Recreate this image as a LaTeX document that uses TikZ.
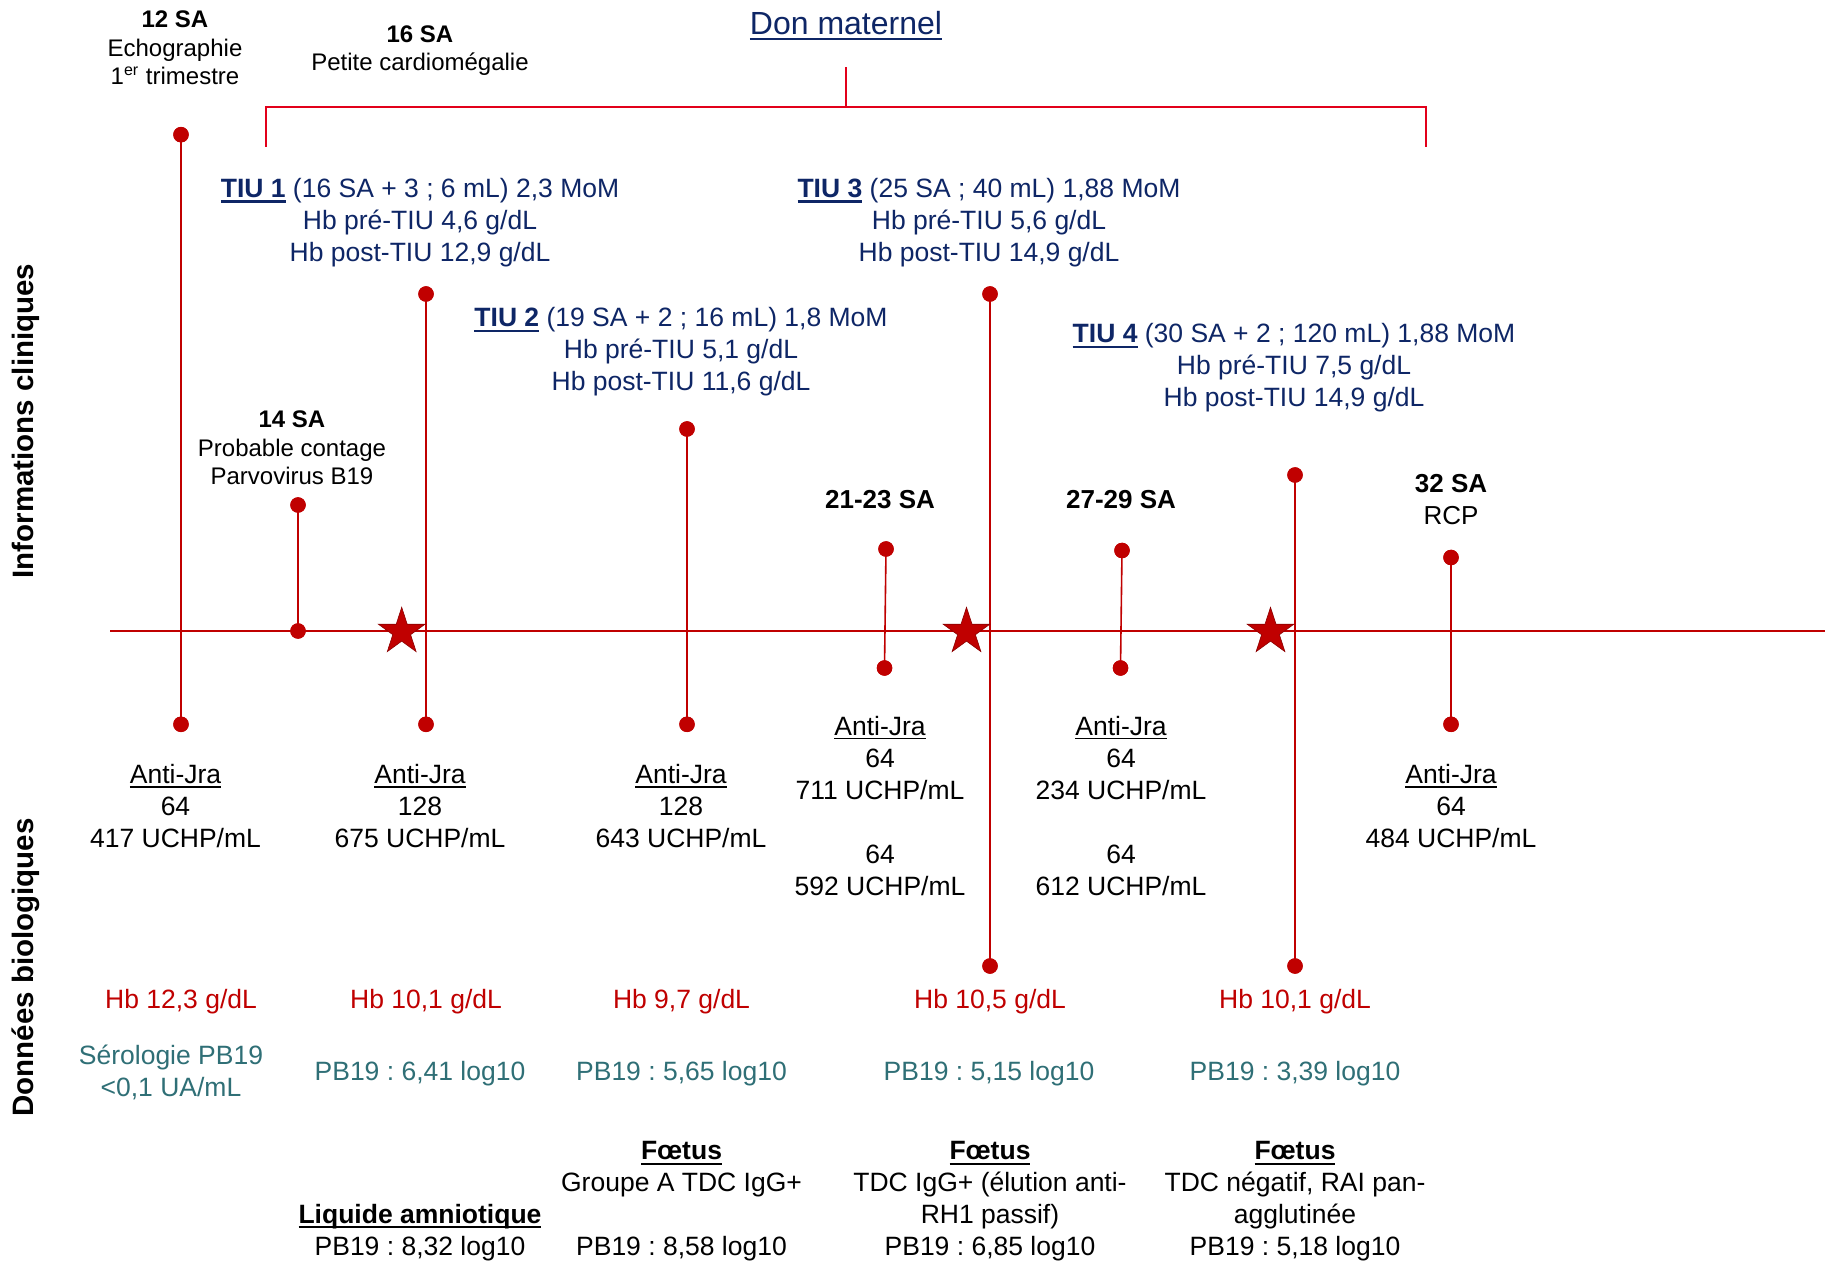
\documentclass[tikz,border=0pt]{standalone}
\usepackage{fontspec}
\setmainfont{Liberation Sans}
\usetikzlibrary{shapes.geometric}
\frenchspacing
\definecolor{axisred}{HTML}{C00000}
\definecolor{brred}{HTML}{E2001A}
\definecolor{navytxt}{HTML}{0E2666}
\definecolor{tealtxt}{HTML}{2F6F76}
\definecolor{starline}{HTML}{8B0000}
\newcommand\mlines[1]{\begin{tabular}[t]{@{}c@{}}#1\end{tabular}}
\newcommand\ulthin[1]{\setbox0\hbox{#1}\rlap{\rule[-2.2pt]{\wd0}{0.75pt}}\box0\relax}
\newcommand\ulthick[1]{\setbox0\hbox{#1}\rlap{\rule[-2.7pt]{\wd0}{1.3pt}}\box0\relax}
\begin{document}
\begin{tikzpicture}[x=0.5pt,y=-0.5pt,
  every node/.style={inner sep=0pt,outer sep=0pt},
  txt/.style={anchor=base,font=\fontsize{13.25pt}{16pt}\selectfont},
  smalltxt/.style={anchor=base,font=\fontsize{12pt}{14.15pt}\selectfont},
  bluetxt/.style={txt,text=navytxt},
  redtxt/.style={txt,text=axisred},
  tealt/.style={txt,text=tealtxt},
  sa/.style={anchor=base,font=\fontsize{13pt}{16pt}\selectfont},
  side/.style={anchor=base,rotate=90,font=\fontsize{14.75pt}{18pt}\selectfont\bfseries},
  dot/.style={circle,fill=axisred,minimum size=7.75pt},
  vline/.style={draw=axisred,line width=0.8pt},
  axisline/.style={draw=axisred,line width=0.9pt},
  bracket/.style={draw=brred,line width=1pt},
  redstar/.style={star,star points=5,star point ratio=2.618,minimum size=24.5pt,fill=axisred,draw=starline,line width=0.3pt}]
\fill[white] (0,0) rectangle (1825,1261);
\useasboundingbox (0,0) rectangle (1825,1261);

% bracket Don maternel
\coordinate (brL) at (266,147);
\coordinate (brR) at (1425.5,147);
\coordinate (brS) at (846,67.3);
\coordinate (brM) at (846,107.3);
\draw[bracket] (brL) -- ++(0,-39.7) -| (brR);
\draw[bracket] (brS) -- (brM);

% axis
\coordinate (axL) at (110,631);
\coordinate (axR) at (1825,631);
\draw[axisline] (axL) -- (axR);

% dots
\node[dot] (d1t) at (181,134.7) {};
\node[dot] (d1b) at (181,724.3) {};
\node[dot] (d2t) at (298,505) {};
\node[dot] (d2b) at (298,631) {};
\node[dot] (d3t) at (426,294) {};
\node[dot] (d3b) at (426,724.3) {};
\node[dot] (d4t) at (687,429) {};
\node[dot] (d4b) at (687,724.3) {};
\node[dot] (d5t) at (886,549) {};
\node[dot] (d5b) at (884.5,668) {};
\node[dot] (d6t) at (990,294) {};
\node[dot] (d6b) at (990,966) {};
\node[dot] (d7t) at (1122,550.5) {};
\node[dot] (d7b) at (1120.5,668) {};
\node[dot] (d8t) at (1295,475) {};
\node[dot] (d8b) at (1295,966) {};
\node[dot] (d9t) at (1451,557.5) {};
\node[dot] (d9b) at (1451,724.3) {};

\foreach \i in {1,...,9} {\draw[vline] (d\i t.center) -- (d\i b.center);}

% stars
\node[redstar] (s1) at (401.7,631.8) {};
\node[redstar] (s2) at (966.5,631.8) {};
\node[redstar] (s3) at (1270.5,631.8) {};

% redraw dots on top
\foreach \n in {d1t,d1b,d2t,d2b,d3t,d3b,d4t,d4b,d5t,d5b,d6t,d6b,d7t,d7b,d8t,d8b,d9t,d9b}
  {\fill[axisred] (\n.center) circle[radius=3.875pt];}

% side labels
\node[side] (sideA) at (33.8,421) {Informations cliniques};
\node[side] (sideB) at (33.8,967.5) {Données biologiques};

% top texts
\node[anchor=base,font=\fontsize{16pt}{19pt}\selectfont,text=navytxt] (don) at (846,35) {\ulthick{Don maternel}};
\node[smalltxt] (t12) at (175,27.8) {\mlines{\textbf{12 SA}\\Echographie\\1\textsuperscript{er} trimestre}};
\node[smalltxt] (t16) at (420,42.2) {\mlines{\textbf{16 SA}\\Petite cardiomégalie}};
\node[smalltxt] (t14) at (292,428) {\mlines{\textbf{14 SA}\\Probable contage\\Parvovirus B19}};

\node[bluetxt] (tiu1) at (420,197.5) {\mlines{\ulthick{\textbf{TIU 1}} (16 SA + 3 ; 6 mL) 2,3 MoM\\Hb pré-TIU 4,6 g/dL\\Hb post-TIU 12,9 g/dL}};
\node[bluetxt] (tiu2) at (681,327) {\mlines{\ulthick{\textbf{TIU 2}} (19 SA + 2 ; 16 mL) 1,8 MoM\\Hb pré-TIU 5,1 g/dL\\Hb post-TIU 11,6 g/dL}};
\node[bluetxt] (tiu3) at (989,197.5) {\mlines{\ulthick{\textbf{TIU 3}} (25 SA ; 40 mL) 1,88 MoM\\Hb pré-TIU 5,6 g/dL\\Hb post-TIU 14,9 g/dL}};
\node[bluetxt] (tiu4) at (1294,343) {\mlines{\ulthick{\textbf{TIU 4}} (30 SA + 2 ; 120 mL) 1,88 MoM\\Hb pré-TIU 7,5 g/dL\\Hb post-TIU 14,9 g/dL}};

\node[sa] (t21) at (880,508.7) {\textbf{21-23 SA}};
\node[sa] (t27) at (1121,508.7) {\textbf{27-29 SA}};
\node[sa] (t32) at (1451,492.7) {\mlines{\textbf{32 SA}\\RCP}};

% antibodies
\node[txt] (a1) at (175.5,783.5) {\mlines{\ulthin{Anti-Jra}\\64\\417 UCHP/mL}};
\node[txt] (a2) at (420,783.5) {\mlines{\ulthin{Anti-Jra}\\128\\675 UCHP/mL}};
\node[txt] (a3) at (681,783.5) {\mlines{\ulthin{Anti-Jra}\\128\\643 UCHP/mL}};
\node[txt] (a4) at (880,735) {\mlines{\ulthin{Anti-Jra}\\64\\711 UCHP/mL\\[16pt]64\\592 UCHP/mL}};
\node[txt] (a5) at (1121,735) {\mlines{\ulthin{Anti-Jra}\\64\\234 UCHP/mL\\[16pt]64\\612 UCHP/mL}};
\node[txt] (a6) at (1451,783.5) {\mlines{\ulthin{Anti-Jra}\\64\\484 UCHP/mL}};

% Hb
\node[redtxt] (h1) at (181,1008) {Hb 12,3 g/dL};
\node[redtxt] (h2) at (426,1008) {Hb 10,1 g/dL};
\node[redtxt] (h3) at (681.5,1008) {Hb 9,7 g/dL};
\node[redtxt] (h4) at (990,1008) {Hb 10,5 g/dL};
\node[redtxt] (h5) at (1295,1008) {Hb 10,1 g/dL};

% PB19
\node[tealt] (p1) at (171,1064) {\mlines{Sérologie PB19\\<0,1 UA/mL}};
\node[tealt] (p2) at (420,1080) {PB19 : 6,41 log10};
\node[tealt] (p3) at (681.5,1080) {PB19 : 5,65 log10};
\node[tealt] (p4) at (989,1080) {PB19 : 5,15 log10};
\node[tealt] (p5) at (1295,1080) {PB19 : 3,39 log10};

% bottom
\node[txt] (la) at (420,1223) {\mlines{\ulthick{\textbf{Liquide amniotique}}\\PB19 : 8,32 log10}};
\node[txt] (f1) at (681.5,1159.7) {\mlines{\ulthick{\textbf{Fœtus}}\\Groupe A TDC IgG+\\[16pt]PB19 : 8,58 log10}};
\node[txt] (f2) at (990,1159.7) {\mlines{\ulthick{\textbf{Fœtus}}\\TDC IgG+ (élution anti-\\RH1 passif)\\PB19 : 6,85 log10}};
\node[txt] (f3) at (1295,1159.7) {\mlines{\ulthick{\textbf{Fœtus}}\\TDC négatif, RAI pan-\\agglutinée\\PB19 : 5,18 log10}};
\end{tikzpicture}
\end{document}
